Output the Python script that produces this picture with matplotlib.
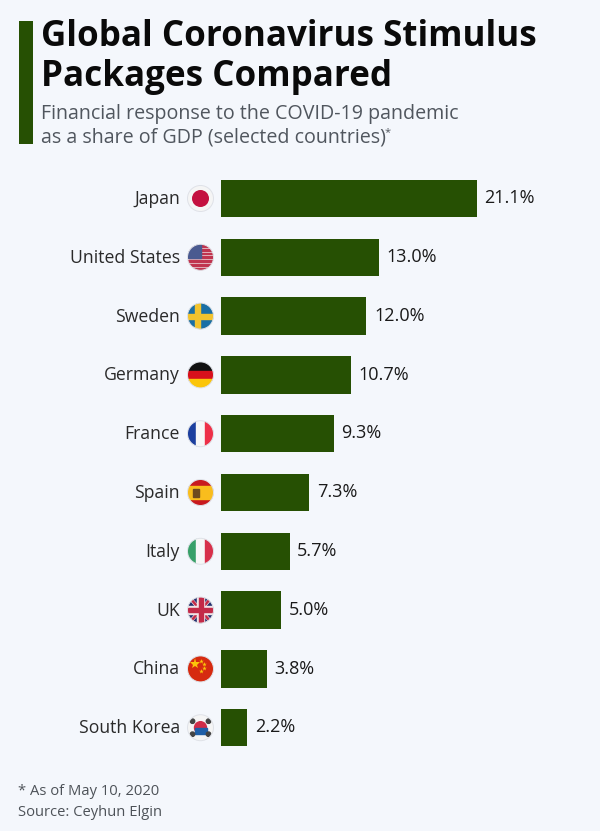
import numpy as np
import matplotlib.pyplot as plt
from matplotlib.patches import Circle, Rectangle, Polygon

countries = ['Japan', 'United States', 'Sweden', 'Germany', 'France',
             'Spain', 'Italy', 'UK', 'China', 'South Korea']
shares = [21.1, 13.0, 12.0, 10.7, 9.3, 7.3, 5.7, 5.0, 3.8, 2.2]
value_labels = ['21.1%', '13.0%', '12.0%', '10.7%', '9.3%',
                '7.3%', '5.7%', '5.0%', '3.8%', '2.2%']

GREEN = '#265003'
BG = '#f4f7fc'
W, H = 600, 831
plt.rcParams['font.family'] = ['Open Sans', 'DejaVu Sans']


def add(a, patch, clip):
    a.add_patch(patch)
    patch.set_clip_path(clip)


def flag_japan(a, clip):
    add(a, Rectangle((-13, -13), 26, 26, color='#f5f5f5'), clip)
    add(a, Circle((0, 0), 7.8, color='#c4103f'), clip)


def flag_usa(a, clip):
    add(a, Rectangle((-13, -13), 26, 26, color='#f3eef0'), clip)
    for k in range(7):
        add(a, Rectangle((-13, -12.5 + k * 3.85), 26, 1.9, color='#c0344f'), clip)
    add(a, Rectangle((-13, -13), 13, 13.5, color='#4a5a90'), clip)


def flag_sweden(a, clip):
    add(a, Rectangle((-13, -13), 26, 26, color='#1a6fa5'), clip)
    add(a, Rectangle((-13, -2.5), 26, 5, color='#f2c32e'), clip)
    add(a, Rectangle((-6, -13), 5, 26, color='#f2c32e'), clip)


def flag_germany(a, clip):
    for y0, c in zip([-13, -4.2, 4.2], ['#111111', '#d8101c', '#fbc50a']):
        add(a, Rectangle((-13, y0), 26, 8.8, color=c), clip)


def flag_france(a, clip):
    for x0, c in zip([-13, -4.2, 4.2], ['#1c3f9e', '#f7f7f7', '#ee3048']):
        add(a, Rectangle((x0, -13), 8.8, 26, color=c), clip)


def flag_spain(a, clip):
    add(a, Rectangle((-13, -13), 26, 26, color='#c8191f'), clip)
    add(a, Rectangle((-13, -6.5), 26, 13, color='#f9bd1d'), clip)
    add(a, Rectangle((-8, -4), 6, 8, color='#6e4a1e'), clip)


def flag_italy(a, clip):
    for x0, c in zip([-13, -4.2, 4.2], ['#38a068', '#f7f7f7', '#d7304a']):
        add(a, Rectangle((x0, -13), 8.8, 26, color=c), clip)


def flag_uk(a, clip):
    add(a, Rectangle((-13, -13), 26, 26, color='#23306e'), clip)
    for s in (1, -1):
        add(a, Polygon([(-13, -13 * s), (-10, -13 * s), (13, 13 * s), (10, 13 * s)],
                       color='#f2e4e6'), clip)
        add(a, Polygon([(-12, -13 * s), (-10.5, -13 * s), (12, 13 * s), (10.5, 13 * s)],
                       color='#c32a48'), clip)
    add(a, Rectangle((-13, -3.6), 26, 7.2, color='#f2e4e6'), clip)
    add(a, Rectangle((-3.6, -13), 7.2, 26, color='#f2e4e6'), clip)
    add(a, Rectangle((-13, -2), 26, 4, color='#c32a48'), clip)
    add(a, Rectangle((-2, -13), 4, 26, color='#c32a48'), clip)


def flag_china(a, clip):
    add(a, Rectangle((-13, -13), 26, 26, color='#d62a10'), clip)
    a.plot([-5.5], [-4.5], marker='*', ms=8, color='#fbc50a', mew=0, clip_path=clip)
    for px, py in [(0, -8), (3, -5), (3, -1), (0, 2)]:
        a.plot([px], [py], marker='*', ms=3.5, color='#fbc50a', mew=0, clip_path=clip)


def flag_korea(a, clip):
    add(a, Rectangle((-13, -13), 26, 26, color='#f5f5f5'), clip)
    add(a, Circle((0, 0), 6, color='#d02c48'), clip)
    add(a, Rectangle((-6, 0), 12, 6, color='#1f5fa8'), clip)
    for sx, sy in [(-8, -6.5), (8, -6.5), (-8, 6.5), (8, 6.5)]:
        add(a, Circle((sx, sy), 2.2, color='#444444'), clip)


flags = [flag_japan, flag_usa, flag_sweden, flag_germany, flag_france,
         flag_spain, flag_italy, flag_uk, flag_china, flag_korea]

fig = plt.figure(figsize=(W / 100, H / 100), dpi=100, facecolor=BG)

# overlay in pixel coordinates for the header, footer and flags
over = fig.add_axes([0, 0, 1, 1])
over.set_xlim(0, W)
over.set_ylim(H, 0)
over.axis('off')
over.set_facecolor('none')

over.add_patch(Rectangle((18.5, 21), 14, 122.5, color=GREEN, lw=0))
over.text(41, 46, 'Global Coronavirus Stimulus', fontsize=25.2, fontweight='bold',
          color='#0a0a0a', va='baseline', ha='left')
over.text(41, 86, 'Packages Compared', fontsize=25.2, fontweight='bold',
          color='#0a0a0a', va='baseline', ha='left')
over.text(41, 119, 'Financial response to the COVID-19 pandemic', fontsize=14.15,
          color='#50565e', va='baseline', ha='left')
over.text(41, 143, 'as a share of GDP (selected countries)', fontsize=14.15,
          color='#50565e', va='baseline', ha='left')
over.text(385, 133, '*', fontsize=8, color='#50565e', va='center', ha='left')
over.text(18, 795, '* As of May 10, 2020', fontsize=10.65, color='#4d5258', va='baseline')
over.text(18, 816, 'Source: Ceyhun Elgin', fontsize=10.65, color='#4d5258', va='baseline')

# bars
x0, per_unit = 220.5, 12.16
top, step = 198.5, 58.8
n = len(countries)
ax = fig.add_axes([x0 / W, 0, 1 - x0 / W, 1], facecolor='none')
ax.set_xlim(0, (W - x0) / per_unit)
ax.set_ylim((H - top) / step, -top / step)
ax.axis('off')
ax.barh(np.arange(n), shares, height=37.5 / step, color=GREEN)
for i, v in enumerate(shares):
    ax.annotate(value_labels[i], (v, i), xytext=(7.5 * 0.72, -4.7 * 0.72),
                textcoords='offset points', va='baseline', ha='left',
                fontsize=13, color='#1a1a1a')

for i, name in enumerate(countries):
    cy = top + i * step
    over.text(180, cy + 5.5, name, va='baseline', ha='right', fontsize=12.7, color='#2a2a2a')

    # each flag gets its own inset in px units around the centre
    inset = fig.add_axes([(200.5 - 14) / W, 1 - (cy + 14) / H, 28 / W, 28 / H],
                         facecolor='none')
    inset.set_xlim(-14, 14)
    inset.set_ylim(14, -14)
    inset.axis('off')
    clip = Circle((0, 0), 13, transform=inset.transData)
    flags[i](inset, clip)
    inset.add_patch(Circle((0, 0), 13, fill=False, ec='#dfe2e8', lw=0.7))
    inset.set_xlim(-14, 14)
    inset.set_ylim(14, -14)

fig.savefig('out.png', dpi=100, facecolor=BG)
